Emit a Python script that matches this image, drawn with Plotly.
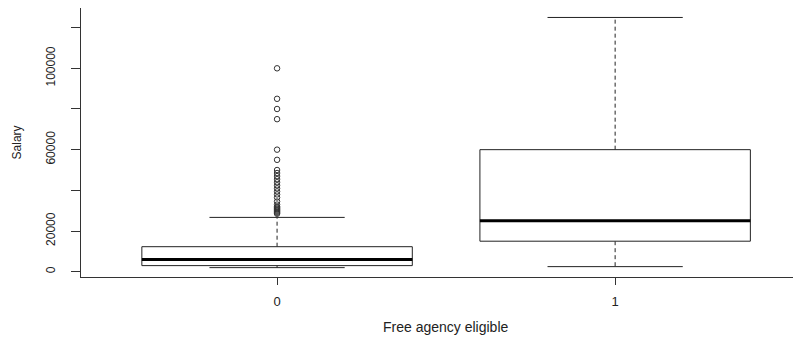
import plotly.graph_objects as go

# ---- data ----
categories = ["0", "1"]
lower_whisker = [2000, 2500]
q1_values = [3000, 15000]
median_values = [6000, 25000]
q3_values = [12300, 60000]
upper_whisker = [26700, 125000]
outliers_0 = [100000, 85000, 80000, 75000, 60000, 55000, 50000, 48500, 47000,
              45500, 44000, 42500, 41000, 39500, 38000, 36500, 34500, 33000,
              32000, 31500, 31000, 30500, 30000, 29500, 29000, 28500]
outliers_1 = []
outliers = [outliers_0, outliers_1]
y_ticks = [0, 20000, 40000, 60000, 80000, 100000, 120000]
y_tick_text = ["0", "20000", "", "60000", "", "100000", ""]

BOX_HALF = 0.4
CAP_HALF = 0.2
LINE = "#222222"
FONT = "Liberation Sans, Arial"

fig = go.Figure()

for i, cat in enumerate(categories):
    p = i + 1
    lo, q1, med, q3, hi = (lower_whisker[i], q1_values[i], median_values[i],
                           q3_values[i], upper_whisker[i])
    # dashed whiskers
    fig.add_trace(go.Scatter(
        x=[p, p, None, p, p], y=[q3, hi, None, q1, lo], mode="lines",
        line=dict(color=LINE, width=1, dash="4px,3px"), hoverinfo="skip"))
    # caps
    fig.add_trace(go.Scatter(
        x=[p - CAP_HALF, p + CAP_HALF, None, p - CAP_HALF, p + CAP_HALF],
        y=[hi, hi, None, lo, lo], mode="lines",
        line=dict(color=LINE, width=1), hoverinfo="skip"))
    # box
    fig.add_trace(go.Scatter(
        x=[p - BOX_HALF, p + BOX_HALF, p + BOX_HALF, p - BOX_HALF, p - BOX_HALF],
        y=[q1, q1, q3, q3, q1], mode="lines", fill="toself", fillcolor="white",
        line=dict(color=LINE, width=1), hoverinfo="skip"))
    # median
    fig.add_trace(go.Scatter(
        x=[p - BOX_HALF, p + BOX_HALF], y=[med, med], mode="lines",
        line=dict(color="black", width=3), hoverinfo="skip"))
    # outliers
    if outliers[i]:
        fig.add_trace(go.Scatter(
            x=[p] * len(outliers[i]), y=outliers[i], mode="markers",
            marker=dict(symbol="circle-open", size=5.5, color="#333333",
                        line=dict(width=1)), hoverinfo="skip"))

fig.add_annotation(x=1.5, xref="x", y=-0.186, yref="paper", yanchor="middle",
                   text="Free agency eligible", showarrow=False,
                   font=dict(family=FONT, size=14, color="#222222"))
fig.add_annotation(x=-0.089, xref="paper", y=0.5, yref="paper",
                   xanchor="center", yanchor="middle", textangle=-90,
                   text="Salary", showarrow=False,
                   font=dict(family=FONT, size=12, color="#222222"))

fig.update_layout(
    width=793, height=329,
    margin=dict(l=73, r=0, t=0, b=60, autoexpand=False),
    plot_bgcolor="white", paper_bgcolor="white",
    showlegend=False,
    font=dict(family=FONT, size=12, color="#222222"),
    xaxis=dict(range=[0.42, 2.5498], tickvals=[1, 2], ticktext=categories,
               showline=True, linecolor="#333333", linewidth=1, mirror=True,
               ticks="outside", ticklen=7, tickcolor="#333333", automargin=False,
               ticklabelstandoff=5,
               showgrid=False, zeroline=False, tickfont=dict(size=13)),
    yaxis=dict(range=[-2600, 129650], tickvals=y_ticks, ticktext=y_tick_text,
               tickangle=-90, showline=True, linecolor="#333333", linewidth=1,
               ticks="outside", ticklen=9, tickcolor="#333333", automargin=False,
               ticklabelstandoff=11,
               showgrid=False, zeroline=False, tickfont=dict(size=12)),
)

fig.write_html("out.html")
